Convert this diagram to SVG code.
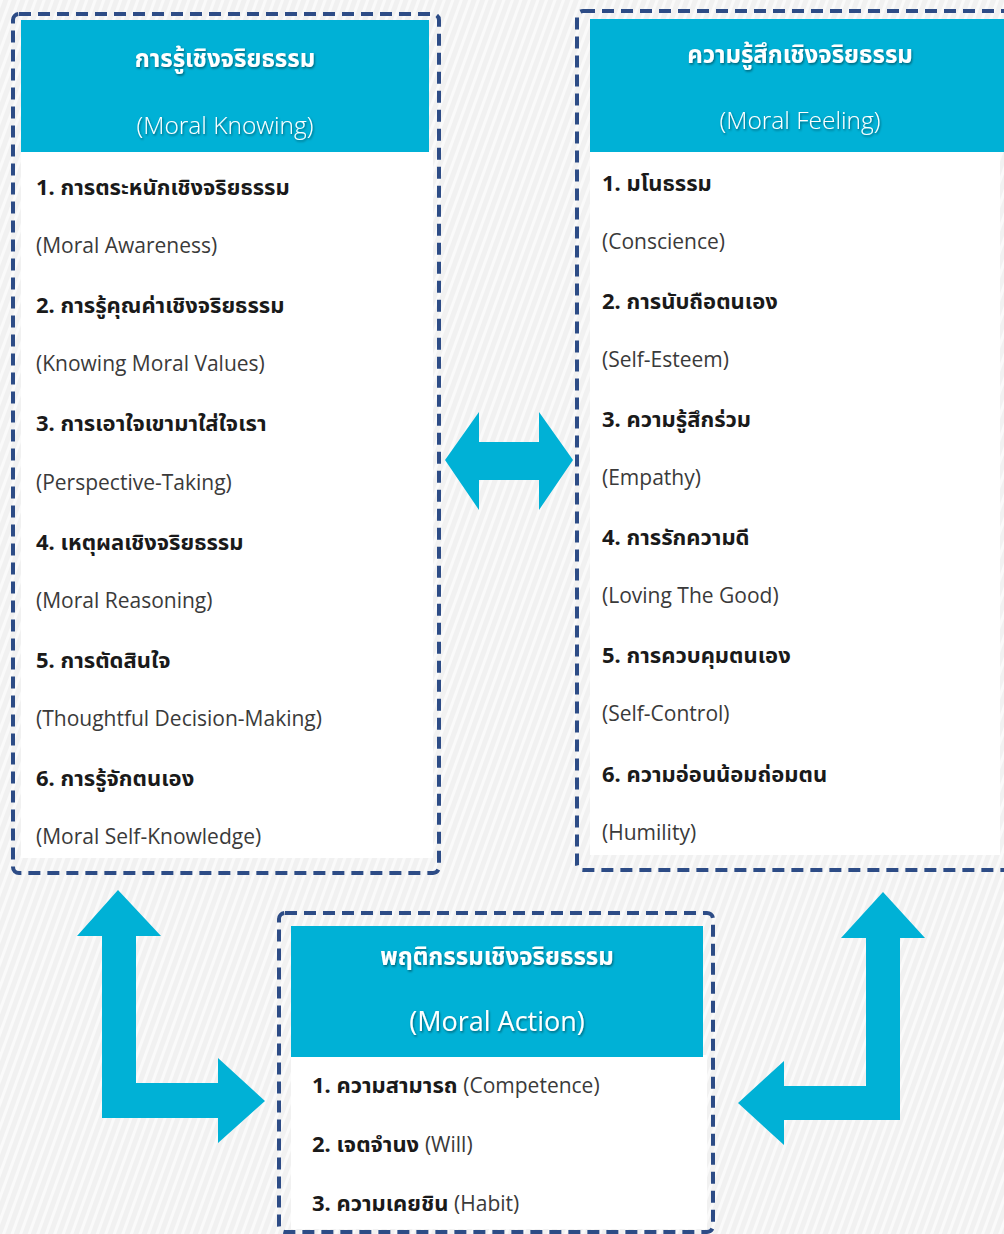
<svg xmlns="http://www.w3.org/2000/svg" width="1004" height="1234" viewBox="0 0 1004 1234">
<defs>
<pattern id="bg" width="8" height="8" patternUnits="userSpaceOnUse" patternTransform="rotate(20)">
<rect width="8" height="8" fill="#f1f1f1"/>
<rect width="3" height="8" fill="#fafafa"/>
</pattern>
<filter id="sh" x="-10%" y="-30%" width="120%" height="160%">
<feDropShadow dx="1" dy="1.5" stdDeviation="1" flood-color="#000" flood-opacity="0.45"/>
</filter>
<style>
.frame{fill:none;stroke:#2d4c86;stroke-width:4;stroke-dasharray:12 7}
.head{fill:#00b1d6}
.body{fill:#ffffff}
.th{font-family:"Noto Sans","Noto Sans Thai","Liberation Sans",sans-serif;font-size:24px;font-weight:bold;fill:#fff;text-anchor:middle;filter:url(#sh)}
.en{font-family:"Open Sans","Noto Sans",sans-serif;font-size:24.5px;font-weight:300;fill:#fff;text-anchor:middle;filter:url(#sh)}
.it{font-family:"Noto Sans","Noto Sans Thai","Liberation Sans",sans-serif;font-size:22px;font-weight:bold;fill:#1a1a1a}
.ie{font-family:"Open Sans","Noto Sans",sans-serif;font-size:21px;font-weight:400;fill:#3a3a3a}
.arrow{fill:#00b1d6}
</style>
</defs>
<rect width="1004" height="1234" fill="url(#bg)"/>

<g id="moral-knowing">
<rect class="body" x="21" y="150" width="412" height="708"/>
<rect class="head" x="21" y="20" width="408" height="132"/>
<rect class="frame" x="13" y="14" width="426" height="859" rx="6"/>
<text class="th" x="225" y="67">การรู้เชิงจริยธรรม</text>
<text class="en" x="225" y="134">(Moral Knowing)</text>
<text class="it" x="36" y="195">1. การตระหนักเชิงจริยธรรม</text>
<text class="ie" x="36" y="253">(Moral Awareness)</text>
<text class="it" x="36" y="313">2. การรู้คุณค่าเชิงจริยธรรม</text>
<text class="ie" x="36" y="371">(Knowing Moral Values)</text>
<text class="it" x="36" y="431">3. การเอาใจเขามาใส่ใจเรา</text>
<text class="ie" x="36" y="490">(Perspective-Taking)</text>
<text class="it" x="36" y="550">4. เหตุผลเชิงจริยธรรม</text>
<text class="ie" x="36" y="608">(Moral Reasoning)</text>
<text class="it" x="36" y="668">5. การตัดสินใจ</text>
<text class="ie" x="36" y="726">(Thoughtful Decision-Making)</text>
<text class="it" x="36" y="786">6. การรู้จักตนเอง</text>
<text class="ie" x="36" y="844">(Moral Self-Knowledge)</text>
</g>

<g id="moral-feeling">
<rect class="body" x="590" y="150" width="410" height="705"/>
<rect class="head" x="590" y="19" width="414" height="133"/>
<rect class="frame" x="577" y="11" width="440" height="859" rx="6"/>
<text class="th" x="800" y="63">ความรู้สึกเชิงจริยธรรม</text>
<text class="en" x="800" y="129">(Moral Feeling)</text>
<text class="it" x="602" y="191">1. มโนธรรม</text>
<text class="ie" x="602" y="249">(Conscience)</text>
<text class="it" x="602" y="309">2. การนับถือตนเอง</text>
<text class="ie" x="602" y="367">(Self-Esteem)</text>
<text class="it" x="602" y="427">3. ความรู้สึกร่วม</text>
<text class="ie" x="602" y="485">(Empathy)</text>
<text class="it" x="602" y="545">4. การรักความดี</text>
<text class="ie" x="602" y="603">(Loving The Good)</text>
<text class="it" x="602" y="663">5. การควบคุมตนเอง</text>
<text class="ie" x="602" y="721">(Self-Control)</text>
<text class="it" x="602" y="782">6. ความอ่อนน้อมถ่อมตน</text>
<text class="ie" x="602" y="840">(Humility)</text>
</g>

<g id="moral-action">
<rect class="body" x="291" y="1055" width="416" height="174"/>
<rect class="head" x="291" y="926" width="412" height="131"/>
<rect class="frame" x="279" y="913" width="434" height="319" rx="6"/>
<text class="th" x="497" y="965">พฤติกรรมเชิงจริยธรรม</text>
<text class="en" x="497" y="1031" style="font-size:27px;font-weight:400">(Moral Action)</text>
<text x="312" y="1093"><tspan class="it">1. ความสามารถ </tspan><tspan class="ie">(Competence)</tspan></text>
<text x="312" y="1152"><tspan class="it">2. เจตจำนง </tspan><tspan class="ie">(Will)</tspan></text>
<text x="312" y="1211"><tspan class="it">3. ความเคยชิน </tspan><tspan class="ie">(Habit)</tspan></text>
</g>

<g id="connectors">
<polygon class="arrow" points="445,460 479,412 479,442 539,442 539,412 573,460 539,510 539,480 479,480 479,510"/>
<polygon class="arrow" points="118,890 161,936 136,936 136,1083 218,1083 218,1058 265,1101 218,1143 218,1118 102,1118 102,936 77,936"/>
<polygon class="arrow" points="883,892 925,938 900,938 900,1120 784,1120 784,1145 738,1103 784,1061 784,1086 866,1086 866,938 841,938"/>
</g>
</svg>
